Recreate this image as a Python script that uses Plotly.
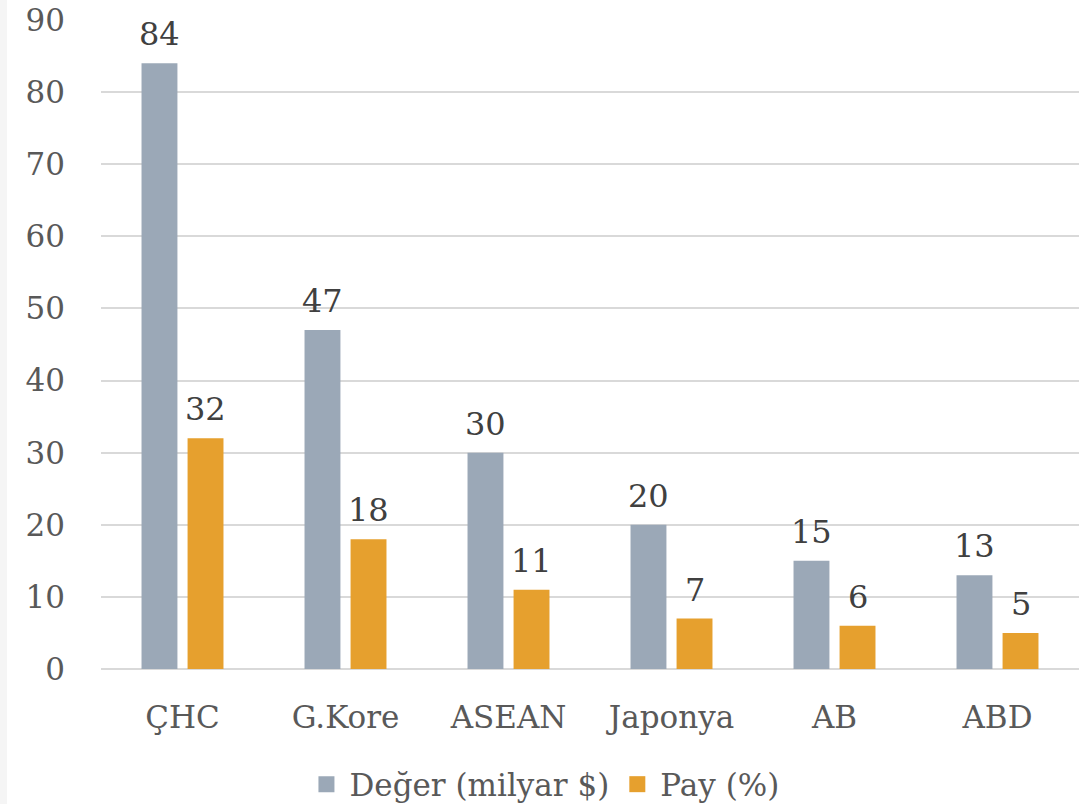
import plotly.graph_objects as go

categories = ["ÇHC", "G.Kore", "ASEAN", "Japonya", "AB", "ABD"]
deger = [84, 47, 30, 20, 15, 13]
pay = [32, 18, 11, 7, 6, 5]
y_ticks = [0, 10, 20, 30, 40, 50, 60, 70, 80, 90]
series_names = ["Değer (milyar $)", "Pay (%)"]
colors = ["#9BA8B7", "#E6A02E"]

FONT = "DejaVu Serif"

fig = go.Figure()
for name, vals, col in zip(series_names, [deger, pay], colors):
    fig.add_trace(go.Bar(
        x=categories, y=vals, name=name, marker_color=col,
        marker_line_width=0, showlegend=False,
    ))
# legend entries with larger square symbols
for name, col in zip(series_names, colors):
    fig.add_trace(go.Scatter(
        x=[None], y=[None], mode="markers", name=name,
        marker=dict(symbol="square", size=18, color=col),
        showlegend=True,
    ))

# value labels above bars
annotations = []
for vals, shift in ((deger, -23), (pay, 23)):
    for c, v in zip(categories, vals):
        annotations.append(dict(
            x=c, y=v, xref="x", yref="y", text=str(v), showarrow=False,
            xshift=shift, yanchor="bottom", yshift=8,
            font=dict(family=FONT, size=32, color="#404040"),
        ))

fig.update_layout(
    width=1079, height=804,
    margin=dict(l=101, r=0, t=20, b=135, autoexpand=False),
    paper_bgcolor="white", plot_bgcolor="white",
    barmode="group", bargap=0.435, bargroupgap=0.22,
    font=dict(family=FONT, size=31, color="#595959"),
    showlegend=True,
    legend=dict(orientation="h", x=0.207, xanchor="left", y=-0.178, yanchor="middle",
                font=dict(family=FONT, size=31, color="#595959"),
                itemsizing="trace", tracegroupgap=0, itemwidth=36),
    xaxis=dict(showgrid=False, showline=False, ticks="", tickfont=dict(size=31),
               ticklabelstandoff=27, automargin=False),
    yaxis=dict(range=[0, 90], tickvals=y_ticks, showgrid=True, gridcolor="#D9D9D9",
               gridwidth=1.5, zeroline=True, zerolinecolor="#D9D9D9", zerolinewidth=1.5,
               showline=False, ticks="", tickfont=dict(size=31), ticklabelstandoff=35,
               automargin=False),
    annotations=annotations,
    shapes=[dict(type="rect", xref="paper", yref="paper", x0=-101/978, x1=-94/978,
                 y0=-135/649, y1=1 + 20/649, fillcolor="#F5F5F5", line_width=0, layer="below")],
)

fig.write_html("out.html", config={"displayModeBar": False},
               post_script="document.body.style.margin='0';")
